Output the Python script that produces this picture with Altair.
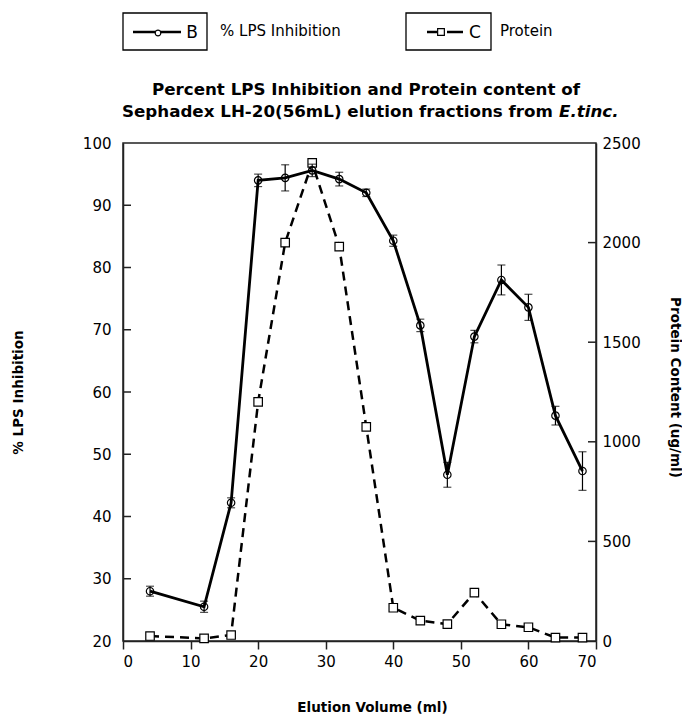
import altair as alt
import pandas as pd

# ---- data ----
volume = [4, 12, 16, 20, 24, 28, 32, 36, 40, 44, 48, 52, 56, 60, 64, 68]
lps_inhibition = [28.0, 25.5, 42.2, 94.0, 94.4, 95.6, 94.2, 92.0, 84.3, 70.7, 46.7, 68.9, 78.0, 73.6, 56.2, 47.3]
lps_error = [0.8, 0.9, 0.8, 1.0, 2.1, 1.0, 1.1, 0.6, 0.9, 1.0, 2.0, 1.0, 2.4, 2.1, 1.5, 3.1]
protein = [25, 13, 30, 1200, 2000, 2400, 1980, 1075, 167, 102, 85, 243, 84, 69, 17, 17]

x_ticks = [0, 10, 20, 30, 40, 50, 60, 70]
lps_ticks = [20, 30, 40, 50, 60, 70, 80, 90, 100]
protein_ticks = [0, 500, 1000, 1500, 2000, 2500]

title_line1 = "Percent LPS Inhibition and Protein content of"
title_line2a = "Sephadex LH-20(56mL) elution fractions from"
title_line2b = "E.tinc."

df = pd.DataFrame({"volume": volume, "lps": lps_inhibition, "err": lps_error, "protein": protein})
df["lo"] = df["lps"] - df["err"]
df["hi"] = df["lps"] + df["err"]

W, H = 473, 498
FONT = "DejaVu Sans"
INK = "#222222"

x_enc = alt.X(
    "volume:Q",
    scale=alt.Scale(domain=[0, 70], nice=False, zero=False),
    axis=alt.Axis(
        values=x_ticks, format="d", tickSize=8, labelPadding=5,
        title="Elution Volume (ml)", titleX=249, titleY=70, titleAlign="center",
        titleBaseline="alphabetic", grid=False,
    ),
)

lps_scale = alt.Scale(domain=[20, 100], nice=False, zero=False)
lps_axis = alt.Axis(
    orient="left", values=lps_ticks, format="d", tickSize=0, labelPadding=12, grid=False,
    title="% LPS Inhibition", titleAngle=270, titleX=-105, titleY=249,
    titleAlign="center", titleBaseline="middle",
)
prot_scale = alt.Scale(domain=[0, 2500], nice=False, zero=False)
prot_axis = alt.Axis(
    orient="right", values=protein_ticks, format="d", tickSize=0, labelPadding=6, grid=False,
    title="Protein Content (ug/ml)", titleAngle=90, titleX=78, titleY=244,
    titleAlign="center", titleBaseline="middle",
)

base = alt.Chart(df)

# ---- Protein (right axis) ----
prot_line = base.mark_line(color="black", strokeWidth=2.5, strokeDash=[9, 6]).encode(
    x=x_enc, y=alt.Y("protein:Q", scale=prot_scale, axis=prot_axis)
)
prot_pts = base.mark_point(shape="square", size=72, filled=False, fill="white", fillOpacity=1,
                           stroke="black", strokeWidth=1.2, opacity=1).encode(
    x=x_enc, y=alt.Y("protein:Q", scale=prot_scale, axis=prot_axis)
)
prot_tick_rules = alt.Chart(pd.DataFrame({"protein": protein_ticks[1:-1]})).mark_rule(
    color=INK, strokeWidth=1.5
).encode(
    y=alt.Y("protein:Q", scale=prot_scale, axis=prot_axis),
    x=alt.value(W - 8), x2=alt.value(W),
)
prot_layer = alt.layer(prot_line, prot_tick_rules, prot_pts)

# ---- LPS inhibition (left axis) ----
lps_err = base.mark_errorbar(ticks=True, size=8, thickness=1.2, color="black").encode(
    x=x_enc,
    y=alt.Y("lo:Q", scale=lps_scale, axis=lps_axis),
    y2="hi:Q",
)
lps_line = base.mark_line(color="black", strokeWidth=2.8).encode(
    x=x_enc, y=alt.Y("lps:Q", scale=lps_scale, axis=lps_axis)
)
lps_pts = base.mark_point(shape="circle", size=55, filled=False, stroke="black",
                          strokeWidth=1.2, opacity=1).encode(
    x=x_enc, y=alt.Y("lps:Q", scale=lps_scale, axis=lps_axis)
)
lps_tick_rules = alt.Chart(pd.DataFrame({"lps": lps_ticks[1:-1]})).mark_rule(
    color=INK, strokeWidth=1.5
).encode(
    y=alt.Y("lps:Q", scale=lps_scale, axis=lps_axis),
    x=alt.value(0), x2=alt.value(8),
)
lps_layer = alt.layer(lps_tick_rules, lps_err, lps_line, lps_pts)

# ---- legend boxes and title (decorations) ----
one = alt.Chart(pd.DataFrame({"d": [0]}))


def box(x0, x1):
    return one.mark_rect(filled=False, fill=None, stroke="black", strokeWidth=1.3).encode(
        x=alt.value(x0), x2=alt.value(x1), y=alt.value(-130), y2=alt.value(-93)
    )


def seg(x0, x1):
    return one.mark_rule(color="black", strokeWidth=2.5).encode(
        x=alt.value(x0), x2=alt.value(x1), y=alt.value(-111)
    )


def txt(s, x, y, size, weight="normal", style="normal", align="left", baseline="alphabetic"):
    return one.mark_text(text=s, font=FONT, fontSize=size, fontWeight=weight, fontStyle=style,
                         align=align, baseline=baseline, color="black").encode(
        x=alt.value(x), y=alt.value(y)
    )


legend = alt.layer(
    box(0, 84),
    seg(10, 58),
    one.mark_point(shape="circle", size=32, filled=False, fill="white", fillOpacity=1,
                   stroke="black", strokeWidth=1.2, opacity=1).encode(x=alt.value(35), y=alt.value(-110)),
    txt("B", 69, -105, 17, align="center"),
    txt("% LPS Inhibition", 97, -107, 15),
    box(283, 368),
    seg(304, 314),
    seg(324, 340),
    one.mark_point(shape="square", size=45, filled=False, fill="white", fillOpacity=1,
                   stroke="black", strokeWidth=1.2, opacity=1).encode(x=alt.value(318), y=alt.value(-111)),
    txt("C", 352, -105, 17, align="center"),
    txt("Protein", 377, -107, 15),
    txt(title_line1, 243, -48, 16.7, weight="bold", align="center"),
    txt(title_line2a, -1, -26, 16.7, weight="bold"),
    txt(title_line2b, 436, -26, 16.7, weight="bold", style="italic"),
)

chart = (
    alt.layer(prot_layer, lps_layer, legend)
    .resolve_scale(y="independent")
    .properties(
        width=W, height=H,
        autosize=alt.AutoSizeParams(type="none"),
        padding={"left": 115, "top": 135, "right": 86, "bottom": 74},
        background="white",
    )
    .configure_view(stroke=INK, strokeWidth=1.5)
    .configure_axis(
        labelFont=FONT, labelFontSize=15, labelColor="black",
        titleFont=FONT, titleFontSize=13.5, titleFontWeight="bold", titleColor="black",
        domainColor=INK, domainWidth=1.5, tickColor=INK, tickWidth=1.5,
    )
)

chart.save("out.html", embed_options={"renderer": "svg", "actions": False})
